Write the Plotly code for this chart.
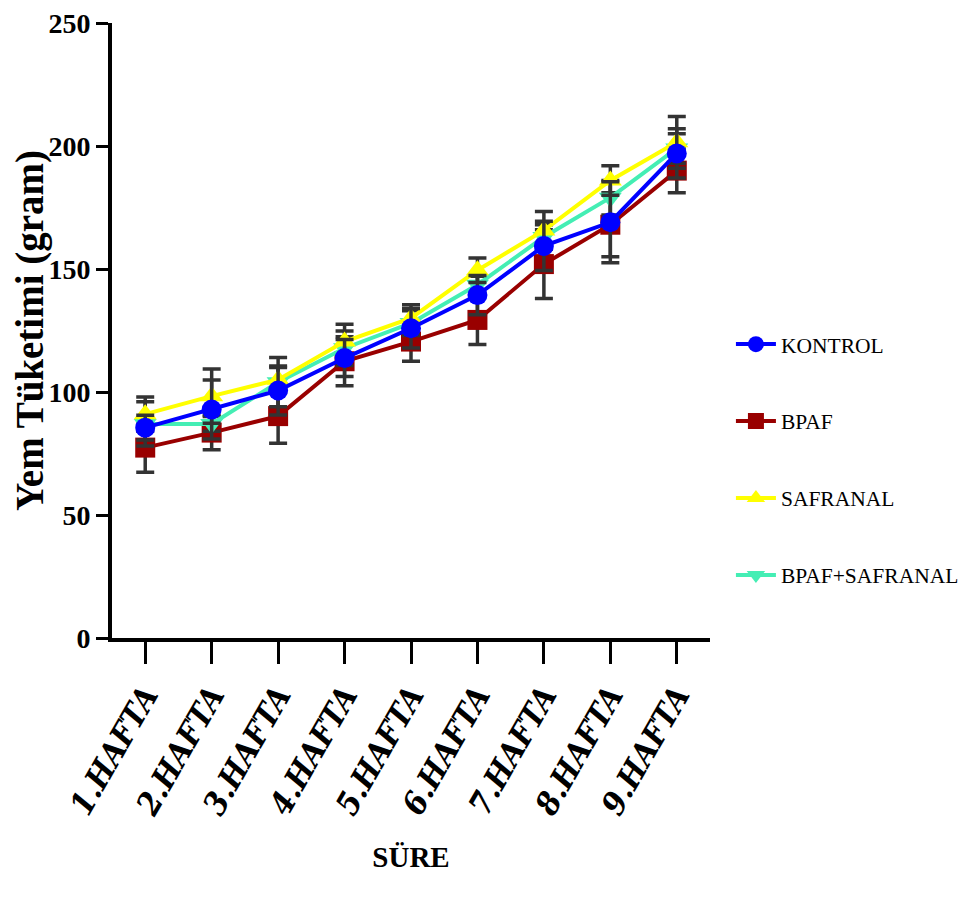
import plotly.graph_objects as go

weeks = ["1.HAFTA", "2.HAFTA", "3.HAFTA", "4.HAFTA", "5.HAFTA", "6.HAFTA", "7.HAFTA", "8.HAFTA", "9.HAFTA"]

kontrol = [85.5, 92.9, 100.6, 113.8, 125.9, 139.4, 159.4, 169.0, 197.0]
kontrol_err = [5, 12, 10, 7.5, 8, 8, 10, 16.5, 10]

bpaf = [77.4, 83.5, 90.2, 112.5, 120.5, 129.3, 152.0, 168.0, 190.0]
bpaf_err = [10, 7, 11, 10, 8, 10, 14, 13, 9]

safranal = [91.0, 98.3, 105.0, 120.5, 130.0, 149.5, 165.7, 186.0, 201.5]
safranal_err = [7, 11, 5, 7, 5.5, 5, 7.7, 6, 10.5]

bpaf_saf = [87.0, 87.0, 104.0, 117.8, 128.0, 143.6, 163.0, 179.0, 199.0]
bpaf_saf_err = [9, 3, 10, 7, 5, 3.5, 5, 7, 6]

FONT = "Times New Roman, Liberation Serif, serif"
XFONT = "DejaVu Serif Condensed, DejaVu Serif, serif"

series = [
    # name, values, errors, color, symbol, legend rank
    ("BPAF", bpaf, bpaf_err, "#990000", "square", 2),
    ("BPAF+SAFRANAL", bpaf_saf, bpaf_saf_err, "#44EEB4", "triangle-down", 4),
    ("SAFRANAL", safranal, safranal_err, "#FFFF00", "triangle-up", 3),
    ("KONTROL", kontrol, kontrol_err, "#0000FF", "circle", 1),
]

fig = go.Figure()
for name, vals, errs, color, symbol, rank in series:
    fig.add_trace(go.Scatter(
        x=weeks, y=vals, name=name, mode="lines+markers",
        line=dict(color=color, width=4),
        marker=dict(color=color, symbol=symbol, size=20),
        error_y=dict(type="data", array=errs, visible=True, color="#333333",
                     thickness=3.5, width=9),
        legendrank=rank, legendgroup=name,
    ))

fig.update_layout(
    width=968, height=908,
    margin=dict(l=104, r=266, t=15, b=278, autoexpand=False),
    plot_bgcolor="white", paper_bgcolor="white",
    font=dict(family=FONT, color="black"),
    showlegend=True,
    legend=dict(
        x=1.035, y=0.29, xanchor="left", yanchor="middle",
        font=dict(family=FONT, size=21.5, color="black"),
        tracegroupgap=46, itemwidth=40,
        bgcolor="rgba(0,0,0,0)",
    ),
    xaxis=dict(
        automargin=False,
        showline=True, linecolor="black", linewidth=4,
        ticks="outside", ticklen=22, tickwidth=3, tickcolor="black",
        tickangle=-60,
        tickmode="array", tickvals=weeks,
        ticktext=["<b><i>%s</i></b>" % w for w in weeks],
        tickfont=dict(family=XFONT, size=32, color="black"),
        ticklabelstandoff=0,
        range=[-0.5, 8.5], showgrid=False, zeroline=False,
        title=dict(text="<b>SÜRE</b>", font=dict(family=FONT, size=29, color="black"),
                   standoff=26),
    ),
    yaxis=dict(
        automargin=False,
        showline=True, linecolor="black", linewidth=4,
        ticks="outside", ticklen=12, tickwidth=3, tickcolor="black",
        tickfont=dict(family=FONT, size=28, color="black", weight="bold"),
        ticklabeloverflow="allow",
        range=[0, 250], tickvals=[0, 50, 100, 150, 200, 250],
        showgrid=False, zeroline=False,
        title=dict(text="<b>Yem Tüketimi (gram)</b>", font=dict(family=FONT, size=39, color="black"),
                   standoff=6),
    ),
)

fig.write_html("out.html")
